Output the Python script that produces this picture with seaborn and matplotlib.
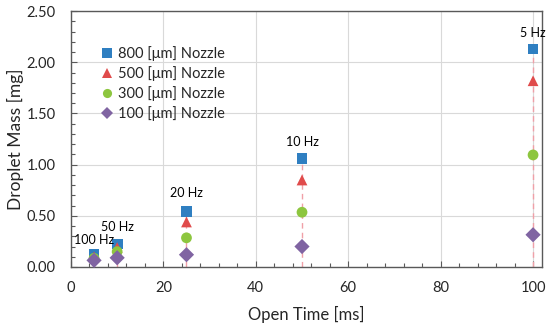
import matplotlib
matplotlib.use("Agg")
import matplotlib.pyplot as plt
from matplotlib.ticker import MultipleLocator, FormatStrFormatter
import seaborn as sns
import pandas as pd
import numpy as np

open_time = [5, 10, 25, 50, 100]
mass_800 = [0.12, 0.225, 0.54, 1.06, 2.13]
mass_500 = [0.10, 0.19, 0.44, 0.85, 1.82]
mass_300 = [0.085, 0.15, 0.285, 0.535, 1.095]
mass_100 = [0.065, 0.09, 0.12, 0.20, 0.315]
freq_labels = ["100 Hz", "50 Hz", "20 Hz", "10 Hz", "5 Hz"]
label_y = [0.265, 0.39, 0.725, 1.22, 2.29]
series_names = ["800 [μm] Nozzle", "500 [μm] Nozzle", "300 [μm] Nozzle", "100 [μm] Nozzle"]

colors = ["#2F7FC1", "#E04B4B", "#8DC63F", "#8064A2"]
markers = ["s", "^", "o", "D"]

rows = []
for name, vals in zip(series_names, [mass_800, mass_500, mass_300, mass_100]):
    for t, m in zip(open_time, vals):
        rows.append({"Open Time [ms]": t, "Droplet Mass [mg]": m, "Series": name})
df = pd.DataFrame(rows)

sns.set_theme(style="white")
plt.rcParams["font.family"] = ["Lato", "DejaVu Sans"]

fig, ax = plt.subplots(figsize=(5.5, 3.28), dpi=100)
fig.subplots_adjust(left=0.129, right=0.986, top=0.966, bottom=0.186)

tops = np.max(np.array([mass_800, mass_500, mass_300, mass_100]), axis=0)
ax.vlines(open_time, 0, tops, colors="#F0A0A8", linestyles=(0, (4, 3)), linewidth=1.0, zorder=1)

sns.scatterplot(data=df, x="Open Time [ms]", y="Droplet Mass [mg]", hue="Series", style="Series",
                hue_order=series_names, style_order=series_names,
                palette=colors, markers=dict(zip(series_names, markers)),
                s=60, edgecolor="none", linewidth=0, ax=ax, zorder=3, clip_on=False)

for t, lab, yy in zip(open_time, freq_labels, label_y):
    ax.text(t, yy, lab, ha="center", va="center", fontsize=9, color="black")

ax.set_xlim(0, 102)
ax.set_ylim(0, 2.5)
ax.xaxis.set_major_locator(MultipleLocator(20))
ax.xaxis.set_minor_locator(MultipleLocator(4))
ax.yaxis.set_major_locator(MultipleLocator(0.5))
ax.yaxis.set_minor_locator(MultipleLocator(0.1))
ax.yaxis.set_major_formatter(FormatStrFormatter("%.2f"))
ax.grid(True, which="major", color="#D9D9D9", linewidth=0.8)
ax.set_axisbelow(True)
for s in ax.spines.values():
    s.set_color("#595959")
    s.set_linewidth(1.0)
ax.tick_params(which="both", direction="in", color="#595959", width=0.8)
ax.tick_params(which="major", length=4, labelsize=10.5)
ax.tick_params(which="minor", length=3)
ax.tick_params(axis="x", which="both", bottom=True, top=False)
ax.tick_params(axis="y", which="both", left=True, right=False)
ax.tick_params(axis="x", which="major", pad=10)
ax.tick_params(axis="y", which="major", pad=11)
ax.set_xlabel("Open Time [ms]", fontsize=12, labelpad=8)
ax.set_ylabel("Droplet Mass [mg]", fontsize=12.5, labelpad=2)

leg = ax.legend(loc="upper left", bbox_to_anchor=(0.062, 0.865), frameon=False, fontsize=10.5,
                handletextpad=0.25, handlelength=1.0, labelspacing=0.35, borderaxespad=0,
                borderpad=0, markerscale=0.85)

fig.savefig("out.png", dpi=100)
